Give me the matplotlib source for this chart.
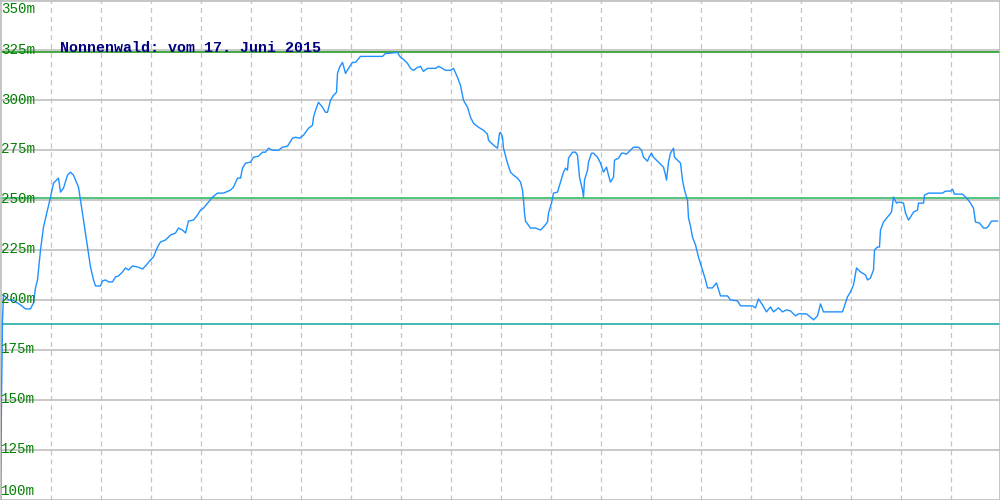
import matplotlib
matplotlib.use("Agg")
import matplotlib.pyplot as plt

plt.rcParams['lines.scale_dashes'] = False

# track profile: distance (px units) and elevation in m
dist = [0, 1, 2, 3, 8, 12, 20, 25, 30, 33, 35, 37, 40, 43, 47, 50, 53, 58, 60, 63,
        67, 70, 73, 78, 80, 83, 87, 90, 93, 95, 100, 102, 105, 108, 112, 115, 118, 122, 125, 128,
        132, 137, 142, 145, 150, 153, 157, 160, 165, 170, 175, 178, 182, 185, 188, 193, 197, 200, 203, 208,
        212, 217, 223, 230, 233, 237, 240, 242, 245, 250, 253, 258, 262, 265, 268, 272, 278, 282, 287, 292,
        295, 299, 303, 308, 312, 313, 315, 318, 322, 325, 327, 330, 333, 336, 337, 339, 342, 345, 348, 352,
        355, 360, 372, 382, 385, 388, 397, 400, 403, 407, 410, 413, 417, 420, 423, 427, 435, 438, 442, 445,
        450, 453, 457, 460, 463, 467, 470, 473, 478, 483, 487, 488, 493, 497, 499, 500, 502, 503, 507, 510,
        513, 517, 520, 522, 523, 524, 525, 530, 535, 540, 543, 547, 548, 551, 553, 557, 560, 563, 565, 567,
        568, 572, 575, 577, 579, 582, 583, 584, 587, 588, 591, 593, 597, 600, 603, 606, 608, 610, 613, 614,
        618, 621, 623, 626, 629, 633, 638, 641, 643, 647, 649, 651, 653, 657, 660, 663, 665, 666, 668, 670,
        673, 674, 677, 680, 682, 684, 687, 688, 690, 692, 695, 698, 702, 705, 707, 712, 716, 720, 727, 730,
        737, 740, 752, 755, 758, 762, 766, 770, 773, 778, 782, 786, 790, 795, 798, 806, 812, 813, 817, 820,
        823, 842, 847, 850, 853, 856, 860, 865, 867, 870, 873, 874, 877, 879, 880, 883, 887, 891, 893, 896,
        898, 903, 905, 908, 910, 913, 917, 918, 923, 924, 928, 942, 945, 950, 952, 954, 962, 967, 970, 973,
        975, 979, 983, 986, 988, 991, 997]
elev = [100, 150, 190, 202.5, 200, 200, 197.5, 195.5, 195.5, 198.5, 206, 210, 225, 236.5, 245, 251.5, 258.5, 261, 254, 256,
        262.5, 264, 262.5, 256.5, 250, 240, 226.5, 216.5, 210, 207, 207, 209.5, 210, 209, 209, 211.5, 212, 214, 216, 215,
        217, 216.5, 215.5, 217, 220, 221.5, 226.5, 229, 230, 232.5, 233.5, 236, 235, 233.5, 239.5, 240, 242.5, 245, 246, 249,
        251.5, 253.5, 253.5, 255, 256.5, 261, 261, 266, 268.5, 269, 271.5, 272, 274, 274, 276, 275, 275, 276.5, 277, 281,
        281.5, 281, 282.5, 286, 287.5, 291.5, 295, 299, 296.5, 294, 294, 300, 302.5, 304, 313.5, 316.5, 319, 313.5, 316, 319,
        319, 322, 322, 322, 323.5, 323.5, 324, 321.5, 320.5, 318.5, 316, 315, 316.5, 317, 314.5, 316, 316, 317, 316, 315,
        315, 316, 311.5, 307.5, 300, 296.5, 291.5, 288.5, 286.5, 285, 283, 280, 277.5, 276, 283.5, 284, 281.5, 276, 268.5, 264,
        262.5, 261, 259, 255, 250, 243.5, 239.5, 236, 236, 235, 236.5, 239, 243.5, 248.5, 253.5, 254, 259, 264, 266, 265,
        271, 274, 274, 272.5, 261.5, 255, 251.5, 260, 265, 269, 273.5, 273.5, 271.5, 268.5, 264, 266.5, 262.5, 259, 261.5, 270,
        271, 273.5, 273.5, 273, 274.5, 276.5, 276.5, 275, 271.5, 269.5, 272, 273.5, 271.5, 269.5, 268, 266.5, 262.5, 260, 269, 273.5,
        276, 271.5, 270, 268.5, 260, 255, 250, 241, 237, 231.5, 227.5, 221.5, 215, 210, 206, 206, 208.5, 202, 202, 200,
        199.5, 197, 197, 196, 200.5, 197.5, 194, 196.5, 194, 196, 194, 195, 194.5, 192, 193, 193, 190.5, 190, 192, 198,
        194, 194, 201.5, 204, 207.5, 216, 214, 212.5, 210, 211, 215, 225, 226.5, 226.5, 235, 239, 241.5, 244, 251.5, 248.5,
        249, 248.5, 243.5, 240, 241.5, 244, 245, 248.5, 248.5, 252.5, 253.5, 253.5, 254.5, 254.5, 255.5, 253, 253, 250.5, 248.5, 246,
        239, 238.5, 236, 236, 237, 239.5, 239.5]

y_ticks = [100, 125, 150, 175, 200, 225, 250, 275, 300, 325, 350]
x_grid = list(range(50, 1000, 50))
ref_levels = [324, 251, 188]
ref_colors = ['#229922', '#33bb66', '#22aaaa']
title = "Nonnenwald: vom 17. Juni 2015"

fig = plt.figure(figsize=(10, 5), dpi=100)
ax = fig.add_axes([0.0005, 0.001, 0.999, 0.998])
ax.set_xlim(0, 999)
ax.set_ylim(100, 350)
ax.set_xticks([])
ax.set_yticks([])
for s in ax.spines.values():
    s.set_color('#bbbbbb')
    s.set_linewidth(1.2)

for y in y_ticks[1:-1]:
    ax.axhline(y, color='#bbbbbb', lw=1.1, zorder=1)
for x in x_grid:
    ax.axvline(x, color='#c4c4c4', lw=0.9, dashes=(3.6, 2.9), zorder=1)
for lvl, c in zip(ref_levels, ref_colors):
    ax.axhline(lvl, color=c, lw=1.2, zorder=2)

ax.plot(dist, elev, color='#1e90ff', lw=1.0, zorder=3)

for y in y_ticks:
    va = 'center'
    if y == y_ticks[-1]:
        va = 'top'
    elif y == y_ticks[0]:
        va = 'bottom'
    yy = y - 1 if va == 'top' else (y + 0.8 if va == 'bottom' else y + 0.4)
    ax.text(0.5, yy, f"{y}m", color='#008000', fontsize=10.2,
            family='Liberation Mono', va=va, ha='left', zorder=4)

ax.text(60, 324.4, title, color='#000080', fontsize=10.8, family='Liberation Mono',
        fontweight='bold', va='baseline', ha='left', zorder=4)

fig.savefig('out.png', dpi=100)
